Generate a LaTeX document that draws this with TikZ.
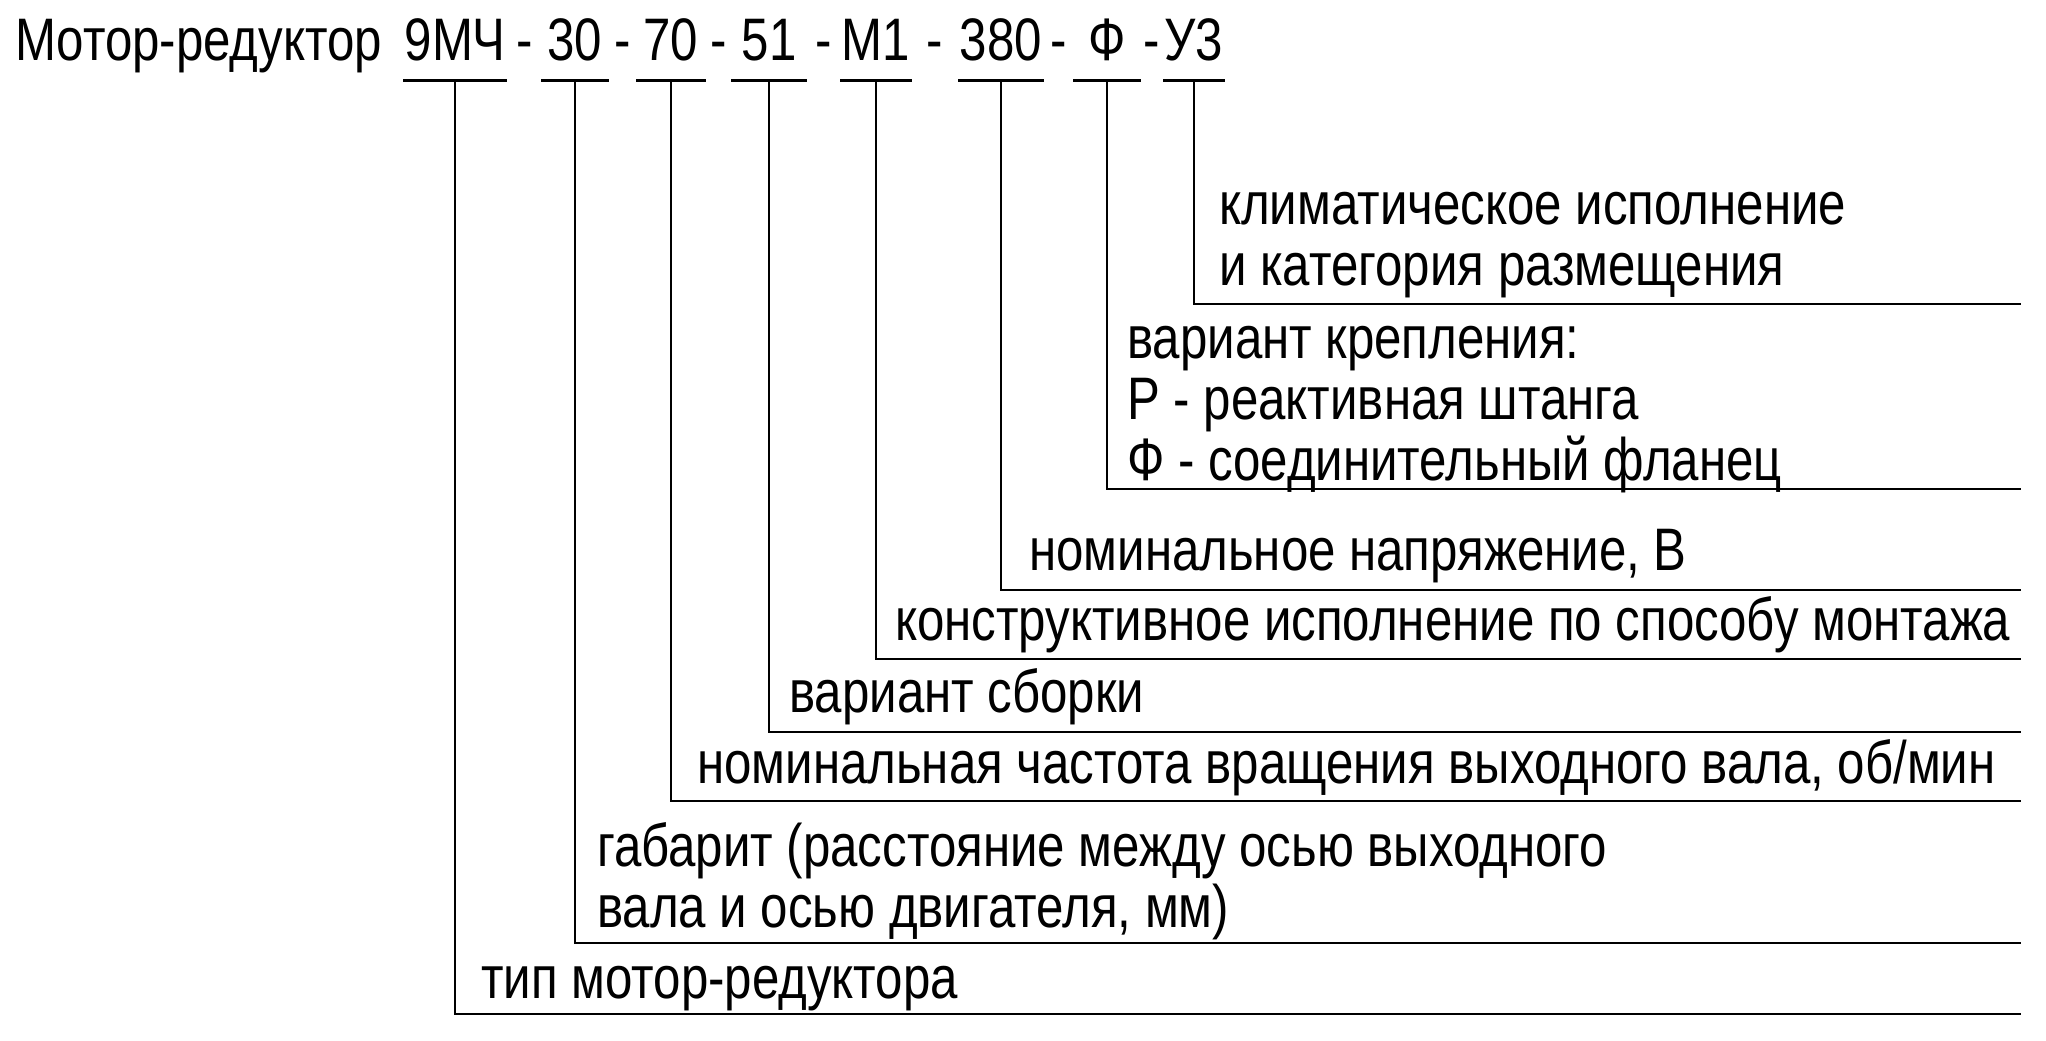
\documentclass[tikz,border=0pt]{standalone}
\usepackage{fontspec}
\setmainfont{Liberation Sans}[FakeStretch=0.82]
\usetikzlibrary{positioning}
\tikzset{
    base/.style={
        font=\fontsize{60}{61}\selectfont,
        inner sep=0pt
    },
    code/.style={
        base,
        anchor=base,
        minimum width=#1,
        text depth=19pt
    },
    desc/.style={
        base,
        anchor=base west,
        align=left
    },
    lead/.style={
        line width=2.8pt
    },
    leadthin/.style={
        line width=2pt
    }
}

\begin{document}
\begin{tikzpicture}[x=1pt, y=-1pt, line cap=rect]
    \useasboundingbox (0,0) rectangle (2046,1041);

    % Designation
    \node[base, anchor=base west] (title) at (15,61) {Мотор-редуктор};
    \node[code=101pt] (type)    at (455,61)  {9МЧ};
    \node[code=64pt]  (size)    at (575,61)  {30};
    \node[code=66pt]  (speed)   at (671,61)  {70};
    \node[code=72pt]  (asm)     at (769,61)  {51};
    \node[code=65pt]  (mount)   at (876,61)  {М1};
    \node[code=80pt]  (volt)    at (1001,61) {380};
    \node[code=65pt]  (fix)     at (1107,61) {Ф};
    \node[code=59pt]  (climate) at (1194,61) {У3};

    \foreach \a/\b in {type/size, size/speed, speed/asm, asm/mount,
                       mount/volt, volt/fix, fix/climate}
        \path (\a.base east) -- (\b.base west) node[base, midway, anchor=base] {-};

    \foreach \c in {type, size, speed, asm, mount, volt, fix, climate}
        \draw[lead] (\c.south west) -- (\c.south east);

    % Row ends
    \coordinate (rType)    at (2020,1014);
    \coordinate (rSize)    at (2020,943);
    \coordinate (rSpeed)   at (2020,801);
    \coordinate (rAsm)     at (2020,732);
    \coordinate (rMount)   at (2020,659);
    \coordinate (rVolt)    at (2020,590);
    \coordinate (rFix)     at (2020,489);
    \coordinate (rClimate) at (2020,304);

    % Leaders
    \draw[lead]     (type.south)    |- (rType);
    \draw[lead]     (size.south)    |- (rSize);
    \draw[leadthin] (speed.south)   |- (rSpeed);
    \draw[leadthin] (asm.south)     |- (rAsm);
    \draw[lead]     (mount.south)   |- (rMount);
    \draw[lead]     (volt.south)    |- (rVolt);
    \draw[lead]     (fix.south)     |- (rFix);
    \draw[lead]     (climate.south) |- (rClimate);

    % Descriptions (base = last line)
    \node[desc] (dType)    at (481,998)  {тип мотор-редуктора};
    \node[desc] (dSize)    at (597,927)  {габарит (расстояние между осью выходного\\вала и осью двигателя, мм)};
    \node[desc] (dSpeed)   at (697,783)  {номинальная частота вращения выходного вала, об/мин};
    \node[desc] (dAsm)     at (789,712)  {вариант сборки};
    \node[desc] (dMount)   at (895,640)  {конструктивное исполнение по способу монтажа};
    \node[desc] (dVolt)    at (1029,570) {номинальное напряжение, В};
    \node[desc] (dFix)     at (1127,480) {вариант крепления:\\Р - реактивная штанга\\Ф - соединительный фланец};
    \node[desc] (dClimate) at (1219,285) {климатическое исполнение\\и категория размещения};
\end{tikzpicture}
\end{document}
